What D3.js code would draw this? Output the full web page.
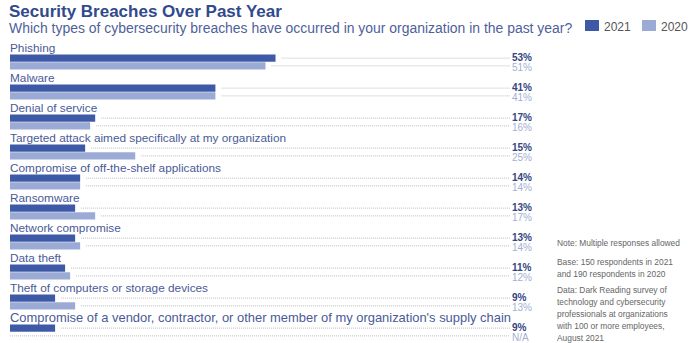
<!DOCTYPE html>
<html>
<head>
<meta charset="utf-8">
<script src="https://cdn.jsdelivr.net/npm/d3@7"></script>
<style>
  html, body { margin: 0; padding: 0; background: #fff; }
  svg { display: block; font-family: "Liberation Sans", Arial, Helvetica, sans-serif; }
</style>
</head>
<body>
<svg id="chart" width="690" height="343"></svg>
<script>
// Breach types and share of respondents per survey year
const categories = [
  "Phishing",
  "Malware",
  "Denial of service",
  "Targeted attack aimed specifically at my organization",
  "Compromise of off-the-shelf applications",
  "Ransomware",
  "Network compromise",
  "Data theft",
  "Theft of computers or storage devices",
  "Compromise of a vendor, contractor, or other member of my organization's supply chain"
];
const values2021 = [53, 41, 17, 15, 14, 13, 13, 11, 9, 9];
const values2020 = [51, 41, 16, 25, 14, 17, 14, 12, 13, null];
const seriesNames = ["2021", "2020"];
const notes = [
  ["Note: Multiple responses allowed"],
  ["Base:  150 respondents in 2021", "and 190 respondents in 2020"],
  ["Data: Dark Reading survey of", "technology and cybersecurity", "professionals at organizations", "with 100 or more employees,", "August 2021"]
];

const colors = { "2021": "#3e59a6", "2020": "#9cabd6" };
const labelColors = { "2021": "#33467f", "2020": "#a3afd3" };

const svg = d3.select("#chart");

const x = d3.scaleLinear().domain([0, 100]).range([10, 511]);
const y = d3.scaleBand().domain(categories).range([40, 340]).paddingInner(0).paddingOuter(0);
const sub = d3.scaleBand().domain(seriesNames).range([14.5, 29.5]).paddingInner(0.07);

// Title and question
svg.append("text").attr("x", 9).attr("y", 16.8)
  .attr("font-size", 17).attr("font-weight", "bold").attr("fill", "#304a8c")
  .text("Security Breaches Over Past Year");
svg.append("text").attr("x", 9).attr("y", 32.8)
  .attr("font-size", 13.95).attr("fill", "#4f5f9a")
  .text("Which types of cybersecurity breaches have occurred in your organization in the past year?");

// Legend
const legend = svg.append("g");
[[585, "2021"], [642, "2020"]].forEach(([lx, name]) => {
  legend.append("rect").attr("x", lx).attr("y", 20).attr("width", 14).attr("height", 11)
    .attr("fill", colors[name]);
  legend.append("text").attr("x", lx + 19).attr("y", 30.5)
    .attr("font-size", 12).attr("fill", "#555").text(name);
});

const rows = svg.append("g").selectAll("g").data(categories).join("g")
  .attr("transform", d => `translate(0,${y(d)})`);

// The long supply-chain label is set larger, spanning the whole bar area
const last = categories.length - 1;
rows.append("text").attr("x", 10).attr("y", (d, i) => i === last ? 12.2 : 11.5)
  .attr("font-size", (d, i) => i === last ? 13 : 11.8)
  .attr("fill", "#4a5a98")
  .each(function (d, i) {
    if (i === last) d3.select(this).attr("textLength", 501).attr("lengthAdjust", "spacingAndGlyphs");
  })
  .text(d => d);

const seriesData = (c, i) => [
  { name: "2021", v: values2021[i] },
  { name: "2020", v: values2020[i] }
];

rows.each(function (c, i) {
  const g = d3.select(this);
  seriesData(c, i).forEach(s => {
    const top = sub(s.name);
    const mid = top + sub.bandwidth() / 2;
    if (s.v != null) {
      g.append("rect").attr("x", x(0)).attr("y", top)
        .attr("width", x(s.v) - x(0)).attr("height", sub.bandwidth())
        .attr("fill", colors[s.name]);
    }
    const start = s.v != null ? x(s.v) + 6 : x(0);
    g.append("line").attr("x1", start).attr("x2", x(100) - 1)
      .attr("y1", mid).attr("y2", mid)
      .attr("stroke", "#bdbdbd").attr("stroke-width", 1)
      .attr("stroke-dasharray", "1,1");
    const dy = s.name === "2021" ? 2.4 : 4.8;
    g.append("text").attr("x", x(100) + 1).attr("y", mid + dy)
      .attr("font-size", 10).attr("font-weight", s.name === "2021" ? "bold" : "normal")
      .attr("fill", labelColors[s.name])
      .text(s.v != null ? d3.format(".0f")(s.v) + "%" : "N/A");
  });
});

// Footnotes
const foot = svg.append("g").attr("font-size", 8.4).attr("fill", "#666");
let fy = 246;
notes.forEach((block, bi) => {
  block.forEach(line => {
    foot.append("text").attr("x", 557).attr("y", fy).text(line);
    fy += 12;
  });
  fy += bi === 0 ? 7 : 4;
});
</script>
</body>
</html>
